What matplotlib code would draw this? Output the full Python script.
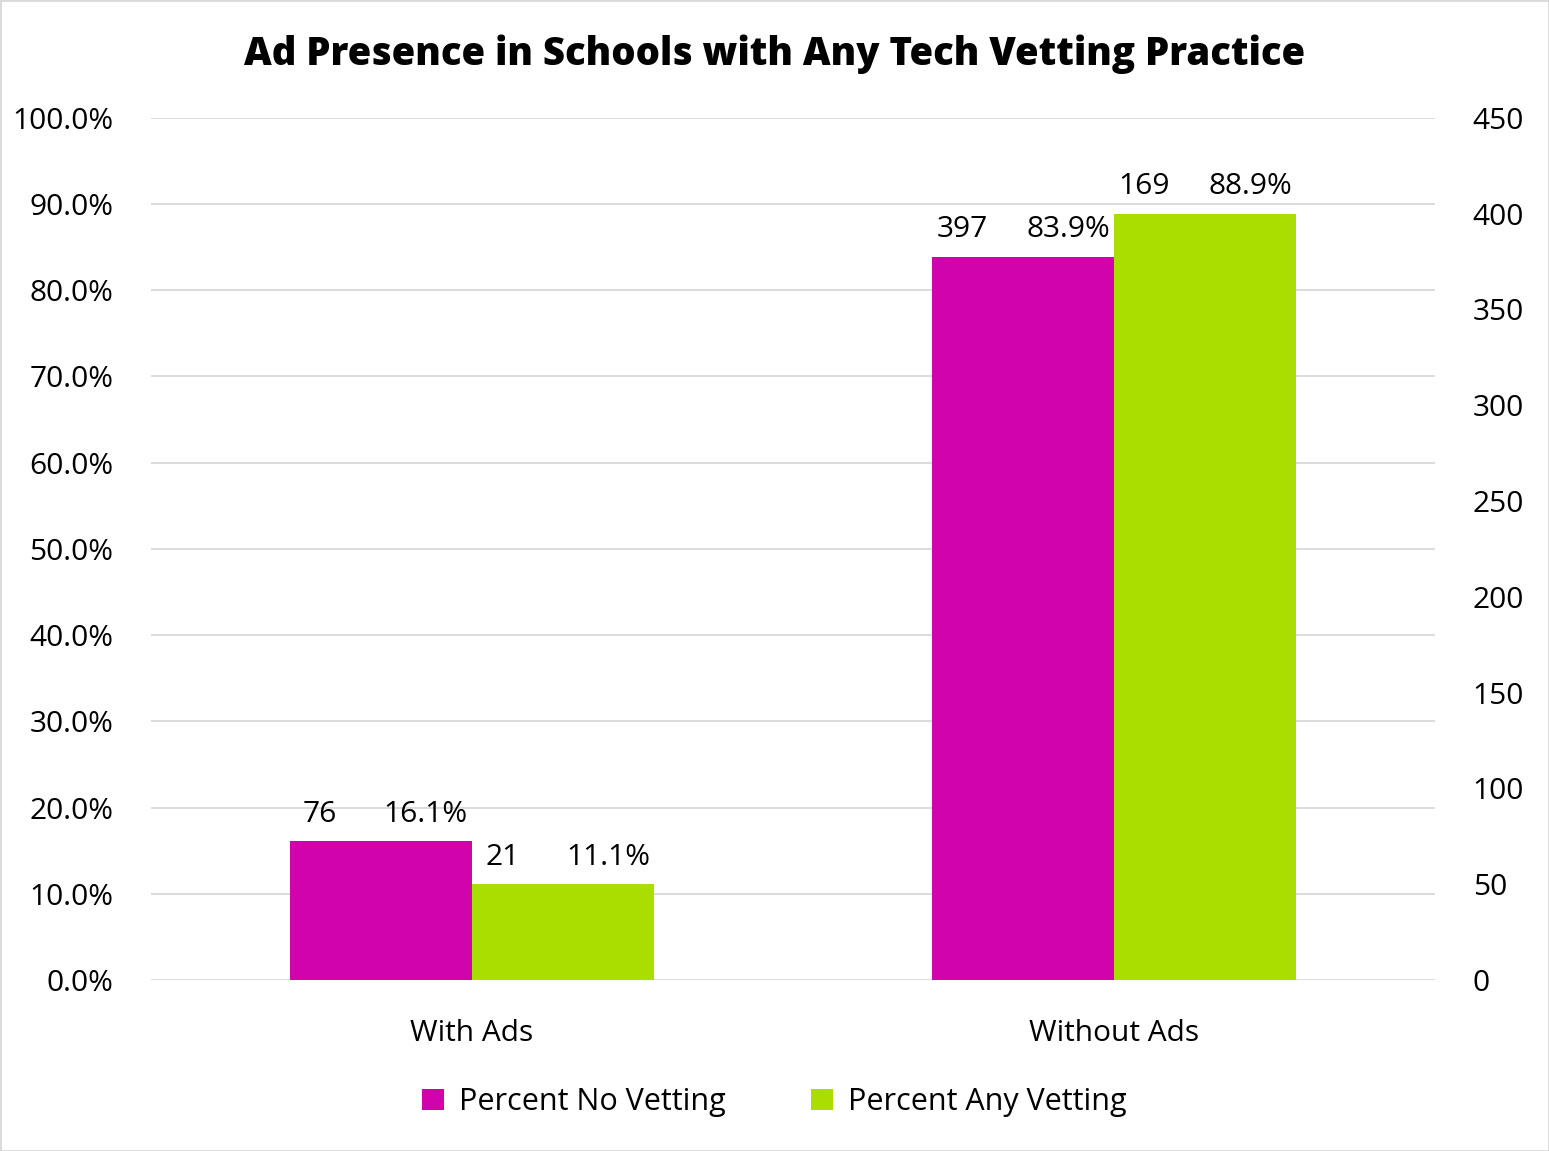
import numpy as np
import matplotlib.pyplot as plt
from matplotlib.patches import Rectangle

plt.rcParams['font.family'] = ['Open Sans', 'DejaVu Sans']

categories = ["With Ads", "Without Ads"]
pct_no_vetting = [16.1, 83.9]
pct_any_vetting = [11.1, 88.9]
count_no_vetting = [76, 397]
count_any_vetting = [21, 169]

magenta = '#D004AA'
green = '#AADD00'
grid_c = '#D9D9D9'

fig = plt.figure(figsize=(15.49, 11.51), dpi=100)
ax = fig.add_axes([0.0975, 0.1486, 0.829, 0.749])
ax2 = ax.twinx()

x = np.arange(len(categories))
w = 0.284
fs = 21.5

b1 = ax.bar(x - w/2, pct_no_vetting, w, color=magenta, label="Percent No Vetting", zorder=3)
b2 = ax.bar(x + w/2, pct_any_vetting, w, color=green, label="Percent Any Vetting", zorder=3)

# labels: count on the left, percent on the right above each bar
for bars, pcts, cnts in [(b1, pct_no_vetting, count_no_vetting),
                         (b2, pct_any_vetting, count_any_vetting)]:
    for b, p, c in zip(bars, pcts, cnts):
        cx = b.get_x() + b.get_width()/2
        ax.annotate(str(c), (cx - 0.095, p), xytext=(0, 9), textcoords='offset points',
                    ha='center', va='bottom', fontsize=fs)
        ax.annotate("{:.1f}%".format(p), (cx + 0.07, p), xytext=(0, 9), textcoords='offset points',
                    ha='center', va='bottom', fontsize=fs)

ax.set_xlim(-0.5, 1.5)
ax.set_ylim(0, 100)
ax.set_yticks(np.arange(0, 101, 10))
ax.set_yticklabels(["{:.1f}%".format(v) for v in np.arange(0, 101, 10)])
ax.set_xticks(x)
ax.set_xticklabels(categories)
ax.yaxis.grid(True, color=grid_c, lw=1.3, zorder=0)
ax.set_axisbelow(True)
ax.tick_params(axis='y', length=0, pad=27, labelsize=fs)
ax.tick_params(axis='x', length=0, pad=28, labelsize=fs)

ax2.set_ylim(0, 450)
ax2.set_yticks(np.arange(0, 451, 50))
ax2.tick_params(axis='y', length=0, pad=27, labelsize=fs)

for a in (ax, ax2):
    for s in a.spines.values():
        s.set_visible(False)

fig.suptitle("Ad Presence in Schools with Any Tech Vetting Practice",
             y=1 - 54/1151, va='center', fontsize=27.5, fontweight='heavy')

fig.legend(handles=[b1, b2], loc='center', bbox_to_anchor=(0.5, 1 - 1102/1151),
           ncol=2, frameon=False, fontsize=22, handlelength=0.7, handleheight=0.7,
           handletextpad=0.5, columnspacing=2.8)

fig.patches.append(Rectangle((0, 0), 1, 1, transform=fig.transFigure,
                             fill=False, edgecolor=grid_c, lw=2))

fig.savefig("out.png", dpi=100)
